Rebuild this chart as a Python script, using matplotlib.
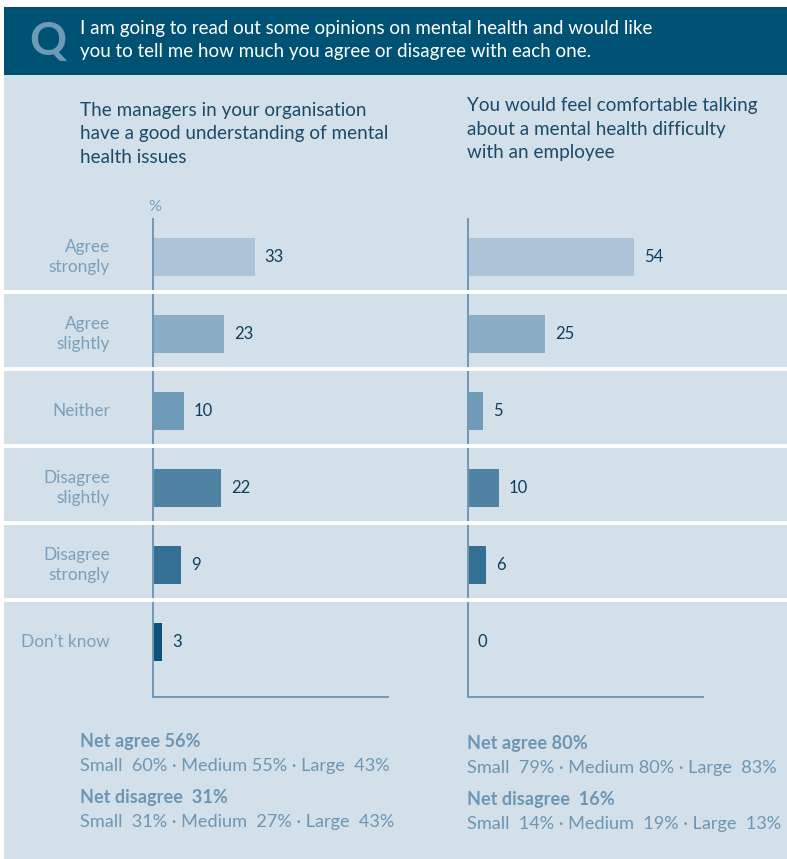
import matplotlib.pyplot as plt
import matplotlib.transforms as mtransforms
from matplotlib.patches import Rectangle
from matplotlib.lines import Line2D

plt.rcParams['font.family'] = ['Lato', 'DejaVu Sans']

# survey answers and percentages
categories = ['Agree\nstrongly', 'Agree\nslightly', 'Neither',
              'Disagree\nslightly', 'Disagree\nstrongly', 'Don\u2019t know']
managers_pct = [33, 23, 10, 22, 9, 3]
comfortable_pct = [54, 25, 5, 10, 6, 0]

question = ('I am going to read out some opinions on mental health and would like\n'
            'you to tell me how much you agree or disagree with each one.')
left_title = ('The managers in your organisation\n'
              'have a good understanding of mental\n'
              'health issues')
right_title = ('You would feel comfortable talking\n'
               'about a mental health difficulty\n'
               'with an employee')

left_net = ['Net agree 56%', 'Small  60% \u00b7 Medium 55% \u00b7 Large  43%',
            'Net disagree  31%', 'Small  31% \u00b7 Medium  27% \u00b7 Large  43%']
right_net = ['Net agree 80%', 'Small  79% \u00b7 Medium 80% \u00b7 Large  83%',
             'Net disagree  16%', 'Small  14% \u00b7 Medium  19% \u00b7 Large  13%']

bar_colors = ['#adc4d8', '#8badc6', '#6f9ab8', '#5083a3', '#346f94', '#0b5378']
header_col = '#005274'
panel_col = '#d3e0e9'
label_col = '#7b9fbb'
value_col = '#103d5e'
title_col = '#1c4a6a'
net_col = '#6c96b4'
axis_col = '#6f98b8'

W, H = 787, 859
fig = plt.figure(figsize=(W / 100, H / 100), dpi=100)


def fx(px):
    return px / W


def fy(py):
    return 1 - py / H


# background panel and header band
fig.add_artist(Rectangle((fx(4), 0), 1 - fx(4), fy(75), transform=fig.transFigure,
                         facecolor=panel_col, edgecolor='none', zorder=0))
fig.add_artist(Rectangle((fx(4), fy(75)), 1 - fx(4), fy(7) - fy(75), transform=fig.transFigure,
                         facecolor=header_col, edgecolor='none', zorder=0))
fig.text(fx(29), fy(42), 'Q', color='#6e9ab6', fontsize=33, fontweight='bold',
         va='center', ha='left')
fig.text(fx(80), fy(40), question, color='white', fontsize=13.5, va='center', ha='left',
         linespacing=1.45)

# chart titles
fig.text(fx(80), fy(134), left_title, color=title_col, fontsize=13.6, va='center',
         ha='left', linespacing=1.45)
fig.text(fx(467), fy(129), right_title, color=title_col, fontsize=13.6, va='center',
         ha='left', linespacing=1.45)

px_per_unit = 3.08
row_px = 77.0
first_row = 257
ax_top, ax_bot = 219, 697


def make_axes(x0, x1):
    ax = fig.add_axes([fx(x0), fy(ax_bot), fx(x1) - fx(x0), fy(ax_top) - fy(ax_bot)])
    ax.set_xlim(0, (x1 - x0) / px_per_unit)
    ax.set_ylim((ax_bot - first_row) / row_px, (ax_top - first_row) / row_px)
    ax.patch.set_visible(False)
    for s in ['top', 'right']:
        ax.spines[s].set_visible(False)
    for s in ['left', 'bottom']:
        ax.spines[s].set_color(axis_col)
        ax.spines[s].set_linewidth(1.4)
        ax.spines[s].set_zorder(5)
    ax.set_xticks([])
    ax.set_yticks([])
    return ax


ax_l = make_axes(153, 388)
ax_r = make_axes(468, 703)
pos = list(range(len(categories)))

for ax, vals in [(ax_l, managers_pct), (ax_r, comfortable_pct)]:
    ax.barh(pos, vals, height=38 / row_px, color=bar_colors, zorder=3)
    for p, v in zip(pos, vals):
        ax.text(v + 10 / px_per_unit, p, str(v), color=value_col, fontsize=12,
                va='center', ha='left', zorder=4)

# row labels on the left
for p, c in zip(pos, categories):
    ax_l.text(-43 / px_per_unit, p, c, color=label_col, fontsize=12.4, va='center',
              ha='right', linespacing=1.35)
ax_l.text(0.7, (207 - first_row) / row_px, '%', color=label_col, fontsize=11.5,
          va='center', ha='center', clip_on=False)

# white separators between rows, across the whole panel
trans = mtransforms.blended_transform_factory(fig.transFigure, ax_l.transData)
for p in pos[:-1]:
    fig.add_artist(Line2D([fx(4), 1], [p + 0.45, p + 0.45], transform=trans,
                          color='white', linewidth=2.8, zorder=1))

# net summary lines below the charts
for x0, lines, y0 in [(80, left_net, 742), (467, right_net, 744)]:
    offsets = [0, 24, 56, 80]
    for i, (t, dy) in enumerate(zip(lines, offsets)):
        fig.text(fx(x0), fy(y0 + dy), t, color=net_col, fontsize=13.1,
                 fontweight='bold' if i % 2 == 0 else 'normal', va='center', ha='left')

fig.savefig('out.png', dpi=100)
